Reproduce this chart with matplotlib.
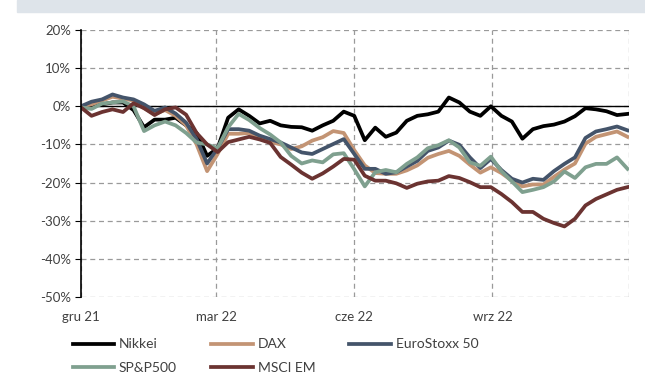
import pandas as pd
import matplotlib.pyplot as plt
from matplotlib.ticker import FuncFormatter, MultipleLocator
from matplotlib.patches import Rectangle

# weekly readings, % change since start of Dec 2021
dates = pd.date_range("2021-12-01", periods=53, freq="7D")

nikkei = [0, 0.5, 0.5, 1.0, 1.0, -1.0, -5.5, -3.5, -3.5, -3.0, -5.0, -7.0, -13.0, -11.0,
          -3.0, -0.8, -2.5, -4.5, -3.8, -5.0, -5.4, -5.5, -6.4, -5.0, -3.8, -1.4, -2.5,
          -8.9, -5.6, -8.0, -6.9, -3.8, -2.5, -2.1, -1.4, 2.3, 1.0, -1.4, -2.5, 0.0,
          -2.5, -4.0, -8.5, -6.0, -5.2, -4.8, -4.0, -2.6, -0.5, -0.8, -1.3, -2.3, -2.0]
dax = [0, 0.5, 1.5, 2.5, 2.0, 1.5, -0.5, -2.0, -1.0, -2.5, -5.0, -10.0, -17.0, -12.5,
       -7.2, -7.2, -7.0, -8.3, -9.3, -10.0, -11.2, -10.5, -9.0, -8.1, -6.5, -7.0, -11.5,
       -15.5, -17.5, -17.7, -17.7, -16.8, -15.5, -13.5, -12.5, -11.7, -13.0, -15.3, -17.4, -16.0,
       -17.5, -19.5, -21.0, -20.5, -20.5, -18.5, -16.6, -15.0, -9.8, -8.0, -7.3, -6.6, -8.0]
eurostoxx = [0, 1.2, 1.8, 3.1, 2.3, 1.8, 0.5, -1.2, -0.3, -1.9, -4.3, -8.6, -15.0, -11.0,
             -6.0, -6.0, -6.4, -7.7, -8.6, -9.5, -10.8, -12.1, -12.5, -11.2, -9.9, -8.6, -12.5,
             -16.4, -16.4, -17.7, -17.3, -15.8, -14.3, -11.7, -10.8, -9.0, -10.1, -13.4, -16.2, -13.8,
             -16.7, -19.0, -20.0, -19.0, -19.3, -17.0, -15.1, -13.4, -8.3, -6.6, -6.0, -5.3, -6.3]
sp500 = [-0.3, -0.7, 0.7, 1.0, 1.3, 0.0, -6.5, -5.0, -4.0, -5.0, -7.0, -9.5, -10.0, -11.0,
         -5.5, -2.0, -3.6, -5.7, -7.4, -9.5, -13.0, -15.0, -14.2, -14.7, -12.6, -12.3, -16.5,
         -21.0, -17.3, -16.7, -17.3, -15.1, -13.4, -11.0, -10.2, -8.9, -10.8, -14.7, -15.6, -13.2,
         -17.0, -19.7, -22.5, -21.9, -21.2, -19.7, -17.1, -18.8, -16.0, -15.1, -15.1, -13.4, -16.4]
msci_em = [-0.3, -2.5, -1.5, -0.8, -1.5, 0.8, -0.5, -2.3, -0.8, -0.3, -2.2, -7.0, -10.0, -12.0,
           -9.4, -8.7, -8.0, -8.7, -9.6, -13.3, -15.3, -17.4, -19.0, -17.6, -15.8, -13.8, -14.0,
           -18.2, -19.5, -19.5, -20.2, -21.4, -20.3, -19.7, -19.5, -18.3, -18.8, -19.9, -21.2, -21.2,
           -23.0, -25.1, -27.7, -27.7, -29.5, -30.6, -31.5, -29.5, -26.0, -24.3, -23.1, -21.9, -21.2]

series = [
    ("Nikkei", nikkei, "#000000"),
    ("DAX", dax, "#c39474"),
    ("EuroStoxx 50", eurostoxx, "#44546a"),
    ("SP&P500", sp500, "#7fa08f"),
    ("MSCI EM", msci_em, "#6b3331"),
]
tick_dates = pd.to_datetime(["2021-12-01", "2022-03-01", "2022-06-01", "2022-09-01", "2022-12-01"])
tick_labels = ["gru 21", "mar 22", "cze 22", "wrz 22", ""]

plt.rcParams["font.family"] = ["Lato", "DejaVu Sans"]
fig = plt.figure(figsize=(6.45, 3.87), dpi=100)
fig.patches.append(Rectangle((17 / 645, 1 - 12 / 387), 1, 12 / 387,
                             transform=fig.transFigure, color="#dee4ea", zorder=0))
ax = fig.add_axes([81 / 645, 1 - 297 / 387, 548 / 645, 267 / 387])

lines = {}
for name, vals, col in series:
    lines[name], = ax.plot(dates, vals, color=col, lw=2.7, label=name, solid_joinstyle="round")

ax.axhline(0, color="black", lw=1, zorder=1)
ax.set_xlim(tick_dates[0], tick_dates[-1])
ax.set_ylim(-50, 20)
ax.yaxis.set_major_locator(MultipleLocator(10))
ax.yaxis.set_major_formatter(FuncFormatter(lambda v, p: f"{v:.0f}%"))
ax.set_xticks(tick_dates)
ax.set_xticklabels(tick_labels)
ax.grid(True, color="#9a9a9a", linestyle=(0, (4, 3)), lw=0.9)
ax.set_axisbelow(True)
for s in ["top", "right", "bottom"]:
    ax.spines[s].set_visible(False)
ax.spines["left"].set_color("black")
ax.spines["left"].set_linewidth(1.2)
ax.tick_params(axis="y", length=4, color="black", labelsize=9.5, labelcolor="#404040", pad=3)
ax.tick_params(axis="x", length=0, labelsize=9.5, labelcolor="#404040", pad=10)

order = ["Nikkei", "SP&P500", "DAX", "MSCI EM", "EuroStoxx 50"]
fig.legend([lines[n] for n in order], order, ncol=3, loc="upper left",
           bbox_to_anchor=(60 / 645, 1 - 326 / 387), frameon=False, fontsize=10,
           handlelength=3.0, handletextpad=0.35, columnspacing=2.45, labelspacing=0.8,
           labelcolor="#404040")

fig.savefig("out.png", dpi=100)
